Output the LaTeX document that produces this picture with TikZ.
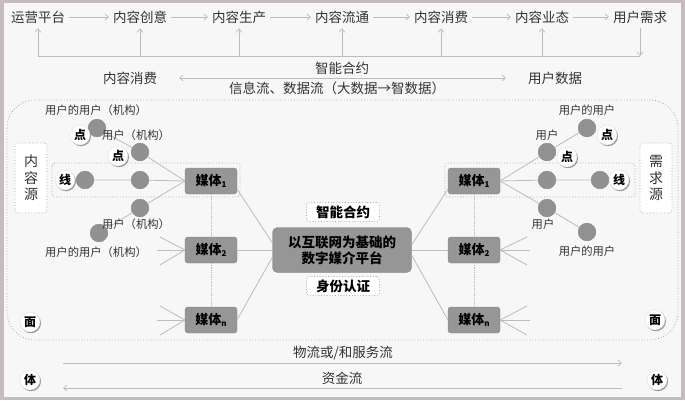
\documentclass[tikz,border=0pt]{standalone}
\usepackage{fontspec}
\setmainfont{Noto Sans CJK SC}
\usetikzlibrary{arrows.meta,shadows,calc}
\definecolor{framec}{RGB}{198,188,190}
\definecolor{bgc}{RGB}{247,247,247}
\definecolor{txtc}{RGB}{50,50,50}
\definecolor{boxc}{RGB}{150,150,150}
\definecolor{dotc2}{RGB}{145,145,145}
\definecolor{linec}{RGB}{188,188,188}
\definecolor{dotc}{RGB}{165,165,165}
\newcommand{\msub}[1]{\raisebox{-2.5pt}{\fontsize{8}{8}\selectfont #1}}
\begin{document}
\begin{tikzpicture}[x=1pt,y=-1pt,
  every node/.style={inner sep=0pt, outer sep=0pt},
  lbl/.style={font=\fontsize{13.5}{15}\selectfont, text=txtc},
  sml/.style={font=\fontsize{11.3}{13}\selectfont, text=txtc},
  mbox/.style={fill=boxc, draw=boxc!85!black, line width=0.4pt, rounded corners=3pt, minimum width=52pt, minimum height=26pt, font=\bfseries\fontsize{13}{15}\selectfont, text=black},
  cbox/.style={mbox, minimum width=139pt, minimum height=45pt, align=center, rounded corners=5pt, font=\bfseries\fontsize{13.5}{16}\selectfont, text=black},
  dbox/.style={draw=dotc, dotted, line width=0.8pt, rounded corners=3pt},
  tagbox/.style={dbox, fill=white, minimum width=73pt, minimum height=19pt, font=\bfseries\fontsize{13.5}{15}\selectfont, text=black},
  srcbox/.style={dbox, fill=white, minimum width=32pt, minimum height=70pt, align=center, font=\fontsize{14}{16.5}\selectfont, text=txtc},
  gdot/.style={circle, fill=dotc2, minimum size=18pt},
  badge/.style={circle, fill=white, draw=black!15, line width=0.3pt, minimum size=20pt, font=\bfseries\fontsize{12}{12}\selectfont, text=black, drop shadow={shadow xshift=1pt, shadow yshift=-1.2pt, fill=black!50, opacity=0.8}},
  conn/.style={draw=linec, line width=0.8pt},
  vdot/.style={draw=linec, line width=0.8pt, densely dotted},
  arr/.style={draw=linec, line width=0.7pt, -{Straight Barb[length=3.5pt,width=6pt]}},
  darr/.style={draw=linec, line width=0.7pt, {Straight Barb[length=3.5pt,width=6pt]}-{Straight Barb[length=3.5pt,width=6pt]}},
]
\fill[framec] (0,0) rectangle (685,400);
\fill[bgc] (4,3) rectangle (681,397);
\useasboundingbox (0,0) rectangle (685,400);

% top chain
\node[lbl] (t1) at (38,17) {运营平台};
\node[lbl] (t2) at (140,17) {内容创意};
\node[lbl] (t3) at (239,17) {内容生产};
\node[lbl] (t4) at (342,17) {内容流通};
\node[lbl] (t5) at (441,17) {内容消费};
\node[lbl] (t6) at (542,17) {内容业态};
\node[lbl] (t7) at (640,17) {用户需求};
\foreach \a/\b in {t1/t2,t2/t3,t3/t4,t4/t5,t5/t6,t6/t7}
  \draw[arr, shorten <=4pt, shorten >=4pt] (\a) -- (\b);
\coordinate (fbL) at (38,56);
\coordinate (fbR) at (640,56);
\draw[conn, line width=0.7pt] (fbL) -- (fbR);
\foreach \i in {1,...,6}
  \draw[arr, shorten >=5pt] (t\i |- fbL) -- (t\i.south);
\draw[arr, shorten <=5pt] (t7.south) -- (t7 |- fbR);

% middle information flow
\node[lbl] (zn) at (342,68) {智能合约};
\node[lbl] (xc) at (130,78) {内容消费};
\node[lbl] (yh) at (555,78) {用户数据};
\draw[darr, shorten <=22pt, shorten >=22pt] (xc) -- (yh);
\node[lbl] (xx) at (337,88) {信息流、数据流（大数据→智数据）};

% big area
\draw[dbox, rounded corners=28pt] (7,100) rectangle (678,340);

% source boxes
\node[srcbox] (nry) at (31,178) {内\\容\\源};
\node[srcbox] (xqy) at (656,178) {需\\求\\源};

% line bands
\draw[dbox] (52,163) rectangle (240,197);
\draw[dbox] (445,163) rectangle (635,197);

% central platform
\node[cbox] (C) at (342,250) {以互联网为基础的\\数字媒介平台};
\node[tagbox] (zhy) at (343,212) {智能合约};
\node[tagbox] (sfrz) at (343,286) {身份认证};

% media boxes
\node[mbox] (L1) at (211,181) {媒体\msub{1}};
\node[mbox] (L2) at (211,250) {媒体\msub{2}};
\node[mbox] (Ln) at (211,320) {媒体\msub{n}};
\node[mbox] (R1) at (474,181) {媒体\msub{1}};
\node[mbox] (R2) at (474,250) {媒体\msub{2}};
\node[mbox] (Rn) at (474,320) {媒体\msub{n}};

\draw[vdot] (L1.south) -- (L2.north);
\draw[vdot] (L2.south) -- (Ln.north);
\draw[vdot] (R1.south) -- (R2.north);
\draw[vdot] (R2.south) -- (Rn.north);

\draw[conn] ([yshift=7pt]C.west) -- ([yshift=-8pt]L1.east);
\draw[conn] (C.west) -- (L2.east);
\draw[conn] ([yshift=-7pt]C.west) -- (Ln.east);
\draw[conn] ([yshift=5pt]C.east) -- ([yshift=-8pt]R1.west);
\draw[conn] (C.east) -- (R2.west);
\draw[conn] ([yshift=-5pt]C.east) -- (Rn.west);

% fans
\coordinate (fl2a) at (160,237); \coordinate (fl2b) at (157,250); \coordinate (fl2c) at (160,265);
\coordinate (flna) at (160,306); \coordinate (flnb) at (157,320); \coordinate (flnc) at (160,335);
\coordinate (fr2a) at (527,237); \coordinate (fr2b) at (530,250); \coordinate (fr2c) at (527,265);
\coordinate (frna) at (527,306); \coordinate (frnb) at (530,320); \coordinate (frnc) at (527,335);
\foreach \p in {fl2a,fl2b,fl2c} \draw[conn] (\p) -- (L2.west);
\foreach \p in {flna,flnb,flnc} \draw[conn] (\p) -- (Ln.west);
\foreach \p in {fr2a,fr2b,fr2c} \draw[conn] (R2.east) -- (\p);
\foreach \p in {frna,frnb,frnc} \draw[conn] (Rn.east) -- (\p);

% left users
\node[gdot] (a1) at (85,180) {};
\node[gdot] (a2) at (140,180) {};
\node[gdot] (b1) at (97,128) {};
\node[gdot] (b2) at (140,152) {};
\node[gdot] (c1) at (140,208) {};
\node[gdot] (c2) at (99,233) {};
\draw[conn] (a1) -- (a2) -- (L1.west);
\draw[conn] (b1) -- (b2) -- (L1.west);
\draw[conn] (c2) -- (c1) -- (L1.west);
\node[gdot] at (a1) {};
\node[gdot] at (a2) {};
\node[gdot] at (b1) {};
\node[gdot] at (b2) {};
\node[gdot] at (c1) {};
\node[gdot] at (c2) {};
\node[sml] (lb1) at (96,110) {用户的用户（机构）};
\node[sml] (lb2) at (136,135) {用户（机构）};
\node[sml] (lc1) at (136,224) {用户（机构）};
\node[sml] (lc2) at (96,252) {用户的用户（机构）};
\node[badge] (xianL) at (65,180) {线};
\node[badge] (dianL1) at (80,135) {点};
\node[badge] (dianL2) at (118,156) {点};

% right users
\node[gdot] (ra1) at (547,180) {};
\node[gdot] (ra2) at (600,180) {};
\node[gdot] (rb1) at (547,152) {};
\node[gdot] (rb2) at (587,128) {};
\node[gdot] (rc1) at (547,208) {};
\node[gdot] (rc2) at (587,232) {};
\draw[conn] (R1.east) -- (ra1) -- (ra2);
\draw[conn] (R1.east) -- (rb1) -- (rb2);
\draw[conn] (R1.east) -- (rc1) -- (rc2);
\node[gdot] at (ra1) {};
\node[gdot] at (ra2) {};
\node[gdot] at (rb1) {};
\node[gdot] at (rb2) {};
\node[gdot] at (rc1) {};
\node[gdot] at (rc2) {};
\node[sml] (rlb2) at (587,110) {用户的用户};
\node[sml] (rlb1) at (547,135) {用户};
\node[sml] (rlc1) at (543,224) {用户};
\node[sml] (rlc2) at (587,251) {用户的用户};
\node[badge] (xianR) at (619,180) {线};
\node[badge] (dianR1) at (567,157) {点};
\node[badge] (dianR2) at (607,135) {点};

% mian / ti
\node[badge] (mianL) at (30,322) {面};
\node[badge] (mianR) at (655,320) {面};
\node[badge] (tiL) at (30,380) {体};
\node[badge] (tiR) at (657,380) {体};

% bottom flows
\node[lbl] (wl) at (343,353) {物流或/和服务流};
\coordinate (wlA) at (63,363); \coordinate (wlB) at (622,363);
\draw[arr] (wlA) -- (wlB);
\node[lbl] (zj) at (342,378) {资金流};
\coordinate (zjA) at (622,388); \coordinate (zjB) at (63,388);
\draw[arr] (zjA) -- (zjB);
\end{tikzpicture}
\end{document}
